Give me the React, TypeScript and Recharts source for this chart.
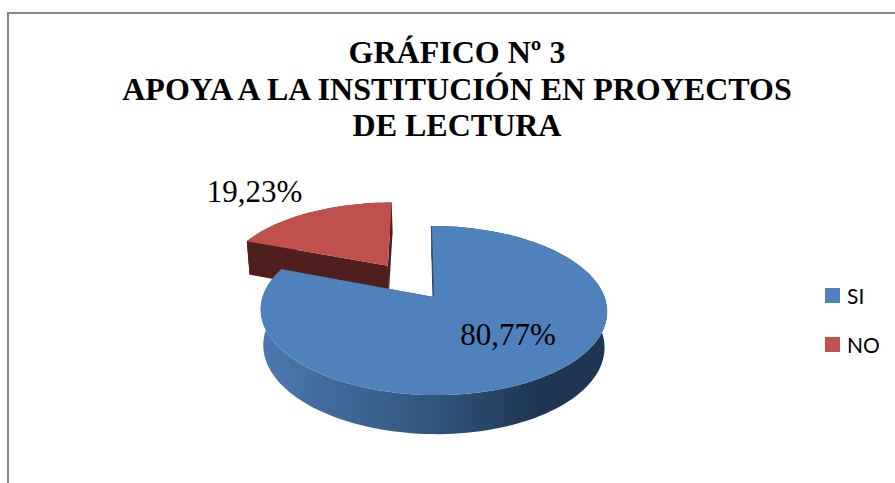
import { Legend, Pie, PieChart, Cell } from 'recharts'

// drawn back to front: NO sits behind SI in the picture
const CATEGORIES = ['NO', 'SI']
const VALUES = [19.23, 80.77]
const LEGEND_ORDER = ['SI', 'NO']
const TITLE_LINES = ['GRÁFICO Nº 3', 'APOYA A LA INSTITUCIÓN EN PROYECTOS', 'DE LECTURA']

const TOP_COLORS: Record<string, string> = { SI: '#4f81bd', NO: '#c0504d' }
const WALL_COLORS: Record<string, string> = { SI: 'url(#wallBlue)', NO: '#4f1f1d' }
const EXPLODE: Record<string, number> = { SI: 0, NO: 0.49 }
const LABEL_OFFSET: Record<string, [number, number]> = { SI: [74.5, 37.5], NO: [-179, -106] }

const pieData = CATEGORIES.map((name, i) => ({ name, value: VALUES[i] }))
const startAngle = 90 + (360 * VALUES[0]) / (VALUES[0] + VALUES[1])

// fake 3d: the flat circle is put through a perspective projection
const TILT = 0.482
const PERSPECTIVE = 0.16
const SHEAR = 0.03
const DEPTH = 35.4
const BOTTOM_X = 0.985
const BOTTOM_Y = 1.037

function project(u: number, v: number, r: number, bottom: boolean) {
  const d = 1 + PERSPECTIVE * v
  const y = (-r * TILT * v) / d
  const x = (r * u) / d + SHEAR * y
  return bottom ? [x * BOTTOM_X, y * BOTTOM_Y + DEPTH] : [x, y]
}

function toPath(points: number[][]) {
  return points.map((p, i) => `${i ? 'L' : 'M'}${p[0].toFixed(2)},${p[1].toFixed(2)}`).join(' ') + ' Z'
}

function Slice3D(props: any) {
  const { cx, cy, outerRadius: r, startAngle: a0, endAngle: a1, name } = props
  const rad = Math.PI / 180
  const mid = ((a0 + a1) / 2) * rad
  const ex = EXPLODE[name] * Math.cos(mid)
  const ey = EXPLODE[name] * Math.sin(mid)

  const steps = Math.ceil(Math.abs(a1 - a0) / 2)
  const arc = (bottom: boolean) => {
    const pts: number[][] = []
    for (let i = 0; i <= steps; i++) {
      const a = (a0 + ((a1 - a0) * i) / steps) * rad
      const p = project(ex + Math.cos(a), ey + Math.sin(a), r, bottom)
      pts.push([cx + p[0], cy + p[1]])
    }
    return pts
  }
  const centre = (bottom: boolean) => {
    const p = project(ex, ey, r, bottom)
    return [cx + p[0], cy + p[1]]
  }

  const top = arc(false)
  const low = arc(true)
  const wall = WALL_COLORS[name]

  return (
    <g>
      <path
        d={toPath([centre(false), top[top.length - 1], low[low.length - 1], centre(true)])}
        fill={wall}
      />
      <path d={toPath([centre(false), top[0], low[0], centre(true)])} fill={wall} />
      <path d={toPath([...top, ...low.slice().reverse()])} fill={wall} />
      <path d={toPath([centre(false), ...top])} fill={props.fill} />
      {name === 'SI' && (
        <path
          d={`M${top[0][0]},${top[0][1]} L${centre(false)[0]},${centre(false)[1]}`}
          stroke="#1f3552"
          strokeWidth={0.8}
          fill="none"
        />
      )}
    </g>
  )
}

function renderLabel(props: any) {
  const { cx, cy, name, value } = props
  const [dx, dy] = LABEL_OFFSET[name]
  return (
    <text
      x={cx + dx}
      y={cy + dy}
      textAnchor="middle"
      dominantBaseline="central"
      fontFamily="Liberation Serif"
      fontSize={31}
      fill="#000"
    >
      {`${value.toFixed(2).replace('.', ',')}%`}
    </text>
  )
}

function renderLegend() {
  return (
    <div>
      {LEGEND_ORDER.map((name) => (
        <div key={name} style={{ display: 'flex', alignItems: 'center', height: 49 }}>
          <span style={{ width: 15, height: 15, background: TOP_COLORS[name], marginRight: 7 }} />
          <span style={{ fontFamily: 'Lato', fontSize: 21, color: '#000' }}>{name}</span>
        </div>
      ))}
    </div>
  )
}

export default function App() {
  return (
    <div style={{ position: 'absolute', left: 0, top: 0, width: 895, height: 483, background: '#fff', overflow: 'hidden' }}>
      <div
        style={{
          position: 'absolute',
          left: 7,
          top: 12,
          width: 888,
          height: 471,
          borderTop: '2px solid #868686',
          borderLeft: '2px solid #868686',
          boxSizing: 'border-box',
        }}
      />
      <PieChart
        width={895}
        height={483}
        margin={{ top: 0, right: 0, bottom: 0, left: 0 }}
        style={{ position: 'absolute', left: 0, top: 0 }}
      >
        <defs>
          <linearGradient id="wallBlue" x1="0" y1="0" x2="1" y2="0">
            <stop offset="0%" stopColor="#4b79b0" />
            <stop offset="50%" stopColor="#33557d" />
            <stop offset="80%" stopColor="#1f3552" />
            <stop offset="100%" stopColor="#1f3552" />
          </linearGradient>
        </defs>
        <text textAnchor="middle" fontFamily="Liberation Serif" fontWeight="bold" fontSize={32} fill="#000">
          {TITLE_LINES.map((line, i) => (
            <tspan key={line} x={457} y={63 + i * 36.5}>
              {line}
            </tspan>
          ))}
        </text>
        <Pie
          data={pieData}
          dataKey="value"
          nameKey="name"
          cx={433.5}
          cy={297}
          outerRadius={171}
          startAngle={startAngle}
          endAngle={startAngle - 360}
          stroke="none"
          shape={Slice3D}
          label={renderLabel}
          labelLine={false}
          isAnimationActive={false}
        >
          {pieData.map((d) => (
            <Cell key={d.name} fill={TOP_COLORS[d.name]} />
          ))}
        </Pie>
        <Legend
          content={renderLegend}
          layout="vertical"
          wrapperStyle={{ position: 'absolute', left: 825, top: 271, width: 70 }}
        />
      </PieChart>
    </div>
  )
}
